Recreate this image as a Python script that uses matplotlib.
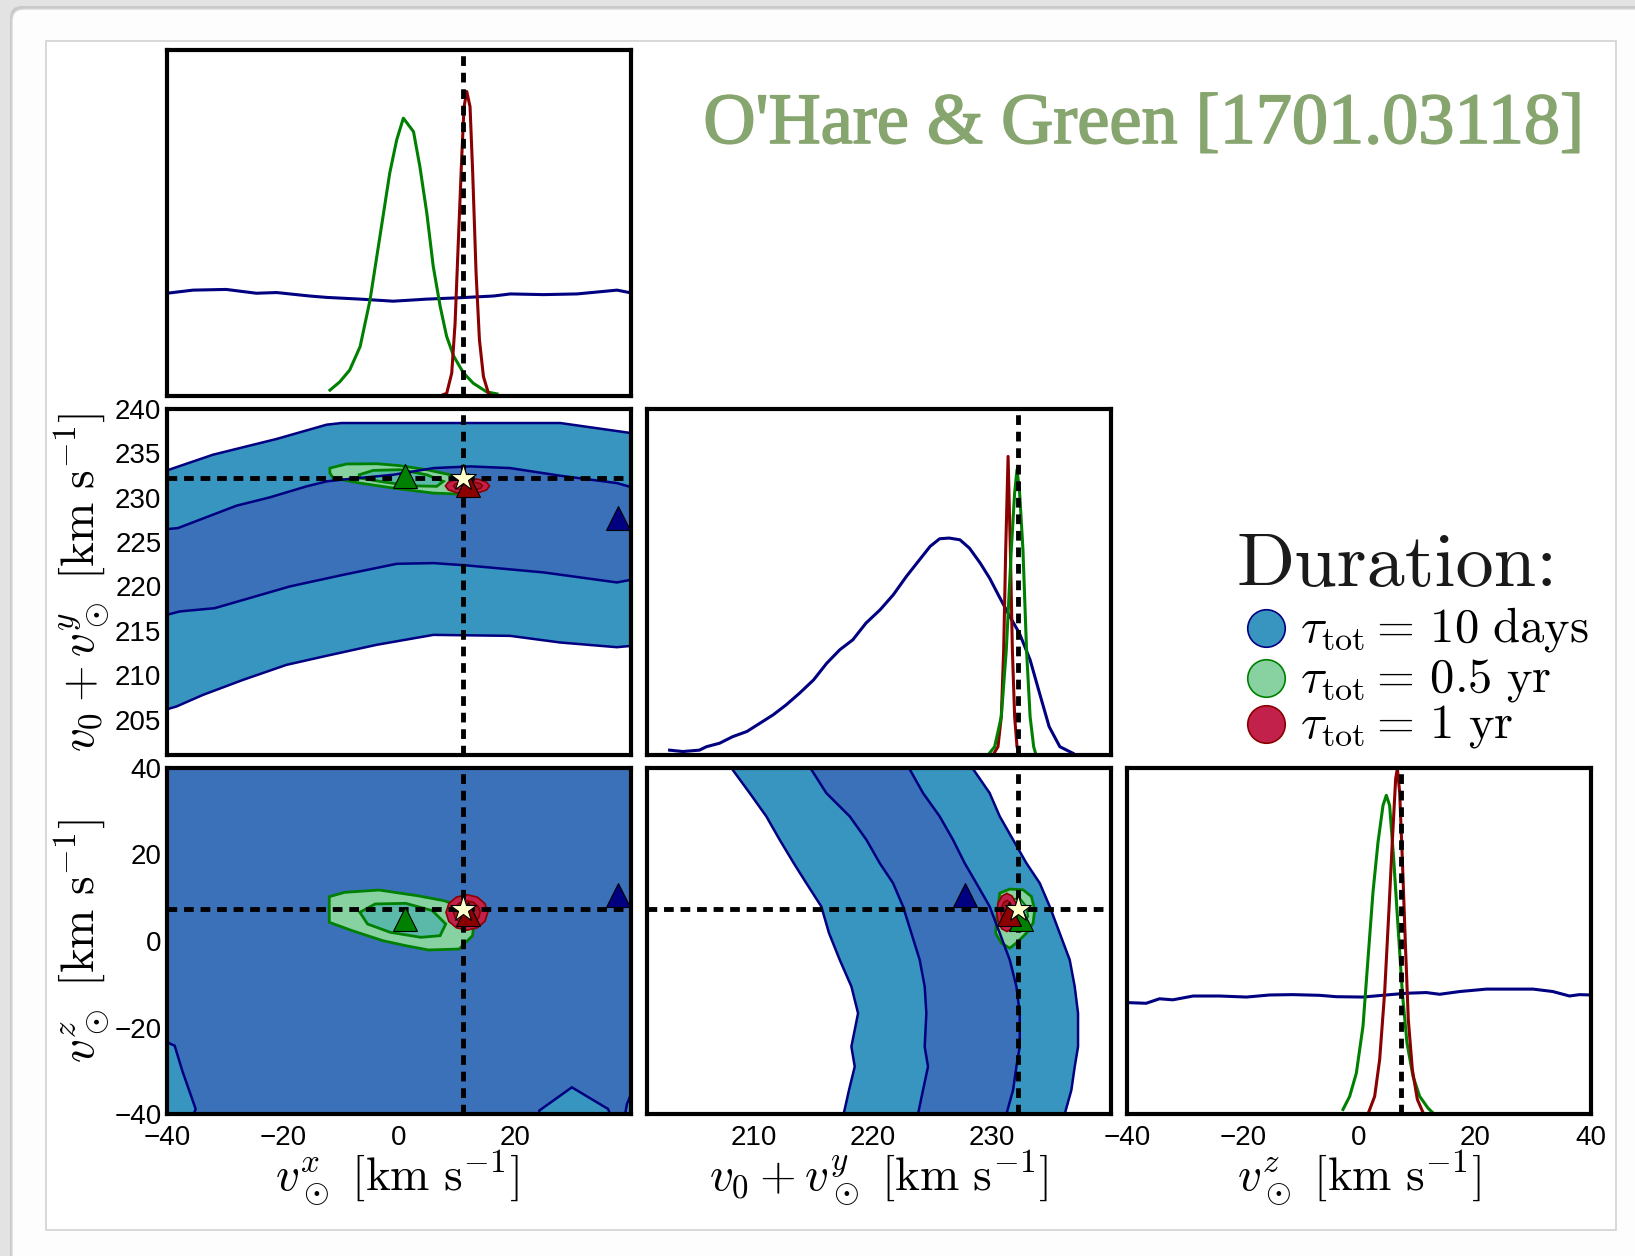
import matplotlib
matplotlib.use('Agg')
import matplotlib.pyplot as plt
import matplotlib.patheffects as pe
from matplotlib.patches import FancyBboxPatch, Rectangle
from matplotlib.lines import Line2D

plt.rcParams['mathtext.fontset'] = 'cm'
plt.rcParams['font.family'] = ['Liberation Sans', 'DejaVu Sans']

# ---------------- data ----------------
# true values (dashed lines + star)
vx_true = 11.1
vy_true = 232.2
vz_true = 7.3

lim_x = (-40, 40)
lim_y = (201, 240)
lim_z = (-40, 40)

ticks_x = [-40, -20, 0, 20]
ticks_y_bottom = [210, 220, 230]
ticks_y_left = [205, 210, 215, 220, 225, 230, 235, 240]
ticks_z = [-40, -20, 0, 20, 40]

# 1D marginals (height as fraction of the panel)
blue_x = [-40, -35.5, -29.8, -24.6, -21.1, -15.4, -12.5, -6.7, -1.0, 4.8, 10.5, 16.3, 19.2, 24.9, 30.7, 37.6, 40]
blue_x_h = [0.297, 0.306, 0.308, 0.297, 0.299, 0.289, 0.285, 0.280, 0.274, 0.280, 0.284, 0.289, 0.295, 0.293, 0.295, 0.306, 0.298]
green_x = [-11.9, -10.2, -8.5, -6.7, -5.0, -3.3, -1.6, -0.4, 0.75, 2.5, 3.6, 4.8, 5.9, 7.1, 8.2, 9.4, 11.1, 12.8, 15.1, 16.9]
green_x_h = [0.017, 0.041, 0.075, 0.143, 0.277, 0.460, 0.644, 0.740, 0.803, 0.764, 0.663, 0.528, 0.375, 0.259, 0.173, 0.116, 0.067, 0.037, 0.012, 0.006]
red_x = [7.08, 8.23, 9.09, 9.67, 10.24, 10.82, 11.22, 11.68, 12.25, 12.71, 13.29, 13.87, 14.56, 15.42, 16.0]
red_x_h = [0, 0.008, 0.066, 0.210, 0.451, 0.692, 0.836, 0.880, 0.836, 0.643, 0.355, 0.162, 0.056, 0.008, 0]

blue_y = [202.9, 204.0, 205.4, 206.0, 207.1, 208.2, 209.4, 210.5, 211.6, 212.7, 213.8, 215.0, 216.1, 217.2, 218.3,
          219.4, 220.6, 221.7, 222.8, 223.9, 224.8, 225.6, 226.4, 227.3, 228.1, 229.0, 229.8, 230.6, 231.5, 232.3,
          233.2, 234.0, 234.8, 235.7, 236.8]
blue_y_h = [0.014, 0.010, 0.014, 0.024, 0.034, 0.053, 0.068, 0.092, 0.116, 0.145, 0.178, 0.217, 0.265, 0.304, 0.333,
            0.381, 0.420, 0.463, 0.516, 0.564, 0.603, 0.625, 0.627, 0.622, 0.598, 0.555, 0.511, 0.458, 0.400, 0.352,
            0.275, 0.178, 0.082, 0.024, 0.005]
green_y = [229.66, 230.22, 230.78, 231.2, 231.62, 231.9, 232.1, 232.32, 232.6, 232.9, 233.2, 233.5, 233.7]
green_y_h = [0, 0.024, 0.111, 0.304, 0.593, 0.757, 0.825, 0.757, 0.593, 0.304, 0.111, 0.024, 0]
red_y = [230.08, 230.5, 230.78, 230.98, 231.15, 231.35, 231.54, 231.71, 231.9, 232.1, 232.33]
red_y_h = [0, 0.024, 0.111, 0.304, 0.593, 0.863, 0.593, 0.304, 0.111, 0.024, 0]

blue_z = [-40, -36.7, -34.4, -32.1, -28.6, -24.0, -19.4, -15.4, -11.4, -6.8, -3.9, 0.7, 4.7, 8.2, 11.6, 13.9,
          17.4, 22.0, 26.5, 30.0, 33.4, 36.3, 38.0, 40]
blue_z_h = [0.322, 0.320, 0.333, 0.330, 0.341, 0.341, 0.338, 0.344, 0.345, 0.343, 0.339, 0.338, 0.344, 0.349, 0.351,
            0.346, 0.354, 0.361, 0.361, 0.361, 0.354, 0.341, 0.345, 0.344]
green_z = [-2.76, -1.61, -0.46, 0.69, 1.55, 2.41, 3.28, 4.14, 4.71, 5.28, 5.98, 6.72, 7.47, 8.27, 9.31, 10.46, 11.9, 12.76]
green_z_h = [0.013, 0.051, 0.118, 0.254, 0.448, 0.641, 0.786, 0.892, 0.921, 0.892, 0.737, 0.544, 0.351, 0.206, 0.109,
             0.051, 0.017, 0.003]
red_z = [1.55, 2.70, 3.56, 4.42, 5.17, 5.74, 6.32, 6.61, 7.01, 7.47, 7.99, 8.5, 9.2, 10.06, 11.15]
red_z_h = [0, 0.051, 0.157, 0.351, 0.592, 0.786, 0.969, 0.998, 0.930, 0.737, 0.495, 0.273, 0.128, 0.042, 0]

# 2D: vx vs v0+vy, 10 days bands
xy_out_up_x = [-40, -32.06, -21.12, -12.49, -9.9, 10.53, 27.8, 40]
xy_out_up_y = [233.08, 234.85, 236.62, 238.23, 238.42, 238.42, 238.42, 237.29]
xy_out_lo_x = [-40, -38.39, -33.78, -26.88, -19.4, -12.49, -3.86, 5.93, 19.16, 27.8, 37.58, 40]
xy_out_lo_y = [206.16, 206.46, 207.78, 209.47, 211.16, 212.18, 213.42, 214.54, 214.43, 213.68, 213.15, 213.30]
xy_in_up_x = [-40, -38.1, -28.03, -22.27, -15.94, -12.49, -9.9, -0.98, 5.93, 12.26, 19.16, 27.8, 37.58, 40]
xy_in_up_y = [226.46, 226.58, 229.10, 230.04, 231.28, 231.84, 232.03, 232.59, 233.34, 233.53, 233.34, 232.48, 231.65, 231.20]
xy_in_lo_x = [-40, -37.81, -31.77, -18.82, -9.61, -0.40, 5.93, 11.68, 24.92, 37.58, 40]
xy_in_lo_y = [216.80, 217.18, 217.55, 220.0, 221.31, 222.55, 222.63, 222.37, 221.58, 220.45, 220.75]
# 0.5 yr
xy_g_out_x = [-11.92, -9.04, -3.86, 0.17, 4.77, 8.80, 11.68, 12.26, 10.53, 5.93, -0.98, -6.74, -11.34, -11.92]
xy_g_out_y = [233.34, 233.80, 233.83, 233.61, 233.16, 232.59, 231.65, 230.71, 230.41, 230.52, 231.09, 231.65, 232.22, 232.78]
xy_g_in_x = [-6.85, -4.43, 0.17, 4.77, 7.65, 6.5, 1.9, -3.28, -6.74]
xy_g_in_y = [232.59, 233.08, 233.16, 232.59, 231.84, 231.28, 231.35, 231.84, 232.22]
# 1 yr
xy_r_out_x = [15.6, 15.09, 13.7, 11.8, 9.9, 8.51, 8.0, 8.51, 9.9, 11.8, 13.7, 15.09]
xy_r_out_y = [231.32, 231.76, 232.07, 232.19, 232.07, 231.76, 231.32, 230.88, 230.57, 230.45, 230.57, 230.88]
xy_r_in_x = [14.4, 14.07, 13.15, 11.9, 10.65, 9.73, 9.4, 9.73, 10.65, 11.9, 13.15, 14.07]
xy_r_in_y = [231.32, 231.57, 231.75, 231.82, 231.75, 231.57, 231.32, 231.07, 230.89, 230.82, 230.89, 231.07]

# 2D: vx vs vz, 10 days (inner region fills the panel, outer patches in the corners)
xz_patch_a_x = [-40, -38.68, -37.37, -35.06, -35.39, -40]
xz_patch_a_z = [-23.43, -24.2, -29.98, -38.84, -40, -40]
xz_patch_b_x = [24.2, 24.2, 29.8, 36.05, 36.38]
xz_patch_b_z = [-40, -39.2, -33.83, -38.84, -40]
xz_patch_c_x = [40, 39.3, 39.0, 40]
xz_patch_c_z = [-35.4, -37.7, -40, -40]
xz_g_out_x = [-12.02, -9.38, -3.46, 3.13, 7.73, 11.03, 13.0, 12.67, 10.37, 5.10, 1.15, -2.80, -8.07, -12.02]
xz_g_out_z = [10.25, 11.25, 11.79, 10.48, 9.33, 7.79, 4.70, 1.23, -1.85, -2.08, -1.08, 0.08, 2.39, 4.32]
xz_g_in_x = [-6.75, -4.12, 1.15, 5.76, 8.06, 7.08, 3.78, -1.48, -5.43]
xz_g_in_z = [6.63, 8.56, 8.71, 7.01, 3.93, 1.23, 0.85, 2.0, 3.93]
xz_r_out_x = [15.3, 14.82, 13.5, 11.7, 9.9, 8.58, 8.1, 8.58, 9.9, 11.7, 13.5, 14.82]
xz_r_out_z = [6.6, 8.65, 10.15, 10.7, 10.15, 8.65, 6.6, 4.55, 3.05, 2.5, 3.05, 4.55]
xz_r_in_x = [14.0, 13.69, 12.85, 11.7, 10.55, 9.71, 9.4, 9.71, 10.55, 11.7, 12.85, 13.69]
xz_r_in_z = [6.6, 7.95, 8.94, 9.3, 8.94, 7.95, 6.6, 5.25, 4.26, 3.9, 4.26, 5.25]

# 2D: v0+vy vs vz, 10 days band boundaries (left to right) on a common vz grid
yz_z = [40, 34.21, 28.81, 23.41, 18.01, 13.38, 7.98, 1.81, -4.36, -10.53, -16.71, -24.42, -29.05, -34.45, -40]
yz_b1 = [208.09, 209.63, 211.03, 212.15, 213.33, 214.39, 215.65, 216.30, 217.20, 218.18, 218.74, 218.18, 218.46, 217.98, 217.53]
yz_b2 = [214.73, 216.07, 218.04, 219.44, 220.56, 221.68, 222.52, 223.22, 223.92, 224.34, 224.48, 224.34, 224.62, 224.20, 223.78]
yz_b3 = [223.02, 224.20, 225.60, 226.72, 227.70, 228.68, 229.80, 230.65, 231.49, 232.05, 232.33, 232.33, 232.05, 231.77, 231.21]
yz_b4 = [228.35, 229.80, 230.65, 231.77, 232.89, 234.01, 234.85, 235.69, 236.53, 236.95, 237.23, 237.23, 236.95, 236.67, 236.11]
yz_g_out_y = [230.65, 231.49, 232.61, 233.31, 233.59, 233.45, 232.89, 232.19, 231.49, 230.79, 230.31, 230.37, 230.51]
yz_g_out_z = [11.07, 12.0, 11.84, 10.30, 7.21, 4.13, 1.81, -0.12, -1.66, -0.50, 1.81, 4.90, 7.98]
yz_g_in_y = [231.49, 232.33, 232.89, 233.03, 232.61, 231.77, 231.21, 231.15]
yz_g_in_z = [9.53, 9.91, 7.98, 5.67, 3.74, 3.74, 5.67, 7.98]
yz_r_out_y = [232.1, 231.99, 231.68, 231.25, 230.83, 230.51, 230.4, 230.51, 230.83, 231.25, 231.68, 231.99]
yz_r_out_z = [6.6, 8.8, 10.4, 11.0, 10.4, 8.8, 6.6, 4.4, 2.8, 2.2, 2.8, 4.4]
yz_r_in_y = [231.75, 231.68, 231.5, 231.25, 231.0, 230.82, 230.75, 230.82, 231.0, 231.25, 231.5, 231.68]
yz_r_in_z = [6.6, 8.0, 9.0, 9.4, 9.0, 8.0, 6.6, 5.2, 4.2, 3.8, 4.2, 5.2]

# best-fit points (triangles) for each duration: (vx, v0+vy, vz)
best_blue = (37.8, 227.7, 10.7)
best_green = (1.0, 232.45, 5.2)
best_red = (11.9, 231.45, 6.2)

legend_labels = [r'$\tau_{\rm tot} =\,10\ {\rm days}$',
                 r'$\tau_{\rm tot} =\,0.5\ {\rm yr}$',
                 r'$\tau_{\rm tot} =\,1\ {\rm yr}$']

# ---------------- styles ----------------
c_blue_out = '#3795bf'
c_blue_in = '#3b71b8'
c_navy = '#000080'
c_green_out = '#88d2a2'
c_green_in = '#5bb9a9'
c_green_line = '#008000'
c_red_out = '#c2214b'
c_red_in = '#a3162c'
c_red_line = '#8b0000'
dash = (0, (2.0, 1.4))

W, H = 1635, 1256
fig = plt.figure(figsize=(W / 100, H / 100), dpi=100)
fig.patch.set_facecolor('#e3e3e3')

# window + inner frame of the screenshot
fig.add_artist(FancyBboxPatch((0.10, -0.6), 17.0, 12.48 + 0.62, boxstyle='round,pad=0,rounding_size=0.12',
                              transform=fig.dpi_scale_trans, facecolor='#c9c9c9', edgecolor='none', zorder=-11))
fig.add_artist(FancyBboxPatch((0.12, -0.6), 17.0, 12.47 + 0.6, boxstyle='round,pad=0,rounding_size=0.12',
                              transform=fig.dpi_scale_trans, facecolor='#fdfdfd', edgecolor='#d8d8d8', lw=1, zorder=-10))
fig.add_artist(Rectangle((0.46, (H - 1230) / 100), 15.70, 11.89, transform=fig.dpi_scale_trans,
                         facecolor='white', edgecolor='#d2d2d2', lw=1.2, zorder=-9))


def panel(col, row):
    x0 = [167, 647, 1127][col]
    y1 = [396, 755, 1114][row]
    ax = fig.add_axes([x0 / W, 1 - y1 / H, 464 / W, 346 / H])
    for s in ax.spines.values():
        s.set_linewidth(3)
    ax.tick_params(length=0, labelsize=20)
    ax.tick_params(axis='x', pad=8)
    ax.tick_params(axis='y', pad=4)
    ax.set_xticks([])
    ax.set_yticks([])
    return ax


def markers(ax, i, j):
    for p, c in [(best_blue, c_navy), (best_green, c_green_line), (best_red, c_red_line)]:
        ax.plot(p[i], p[j], '^', ms=17, mfc=c, mec='k', mew=0.8, zorder=6, clip_on=False)
    t = (vx_true, vy_true, vz_true)
    ax.plot(t[i], t[j], '*', ms=20, mfc='#ffffcc', mec='k', mew=0.8, zorder=7)


# ---- top-left: vx marginal
ax = panel(0, 0)
ax.plot(blue_x, blue_x_h, color=c_navy, lw=2.2)
ax.plot(green_x, green_x_h, color=c_green_line, lw=2.2)
ax.plot(red_x, red_x_h, color=c_red_line, lw=2.2)
ax.axvline(vx_true, color='k', lw=3.5, ls=dash)
ax.set_xlim(lim_x)
ax.set_ylim(0, 1)

# ---- middle-left: vx vs v0+vy
ax = panel(0, 1)
ax.fill(xy_out_up_x + xy_out_lo_x[::-1], xy_out_up_y + xy_out_lo_y[::-1], color=c_blue_out, lw=0)
ax.fill(xy_in_up_x + xy_in_lo_x[::-1], xy_in_up_y + xy_in_lo_y[::-1], color=c_blue_in, lw=0)
for bx, by in [(xy_out_up_x, xy_out_up_y), (xy_out_lo_x, xy_out_lo_y), (xy_in_up_x, xy_in_up_y), (xy_in_lo_x, xy_in_lo_y)]:
    ax.plot(bx, by, color=c_navy, lw=1.8)
ax.fill(xy_g_out_x, xy_g_out_y, facecolor=c_green_out, edgecolor=c_green_line, lw=2)
ax.fill(xy_g_in_x, xy_g_in_y, facecolor=c_green_in, edgecolor=c_green_line, lw=2)
ax.fill(xy_r_out_x, xy_r_out_y, facecolor=c_red_out, edgecolor=c_red_line, lw=1.2)
ax.fill(xy_r_in_x, xy_r_in_y, facecolor=c_red_in, edgecolor=c_red_line, lw=1.2)
ax.axvline(vx_true, color='k', lw=3.5, ls=dash, zorder=5)
ax.axhline(vy_true, color='k', lw=3.5, ls=dash, zorder=5)
markers(ax, 0, 1)
ax.set_xlim(lim_x)
ax.set_ylim(lim_y)
ax.set_yticks(ticks_y_left)

# ---- bottom-left: vx vs vz
ax = panel(0, 2)
ax.set_facecolor(c_blue_in)
for px, pz in [(xz_patch_a_x, xz_patch_a_z), (xz_patch_b_x, xz_patch_b_z), (xz_patch_c_x, xz_patch_c_z)]:
    ax.fill(px, pz, facecolor=c_blue_out, edgecolor=c_navy, lw=1.8)
ax.fill(xz_g_out_x, xz_g_out_z, facecolor=c_green_out, edgecolor=c_green_line, lw=2)
ax.fill(xz_g_in_x, xz_g_in_z, facecolor=c_green_in, edgecolor=c_green_line, lw=2)
ax.fill(xz_r_out_x, xz_r_out_z, facecolor=c_red_out, edgecolor=c_red_line, lw=1.2)
ax.fill(xz_r_in_x, xz_r_in_z, facecolor=c_red_in, edgecolor=c_red_line, lw=1.2)
ax.axvline(vx_true, color='k', lw=3.5, ls=dash, zorder=5)
ax.axhline(vz_true, color='k', lw=3.5, ls=dash, zorder=5)
markers(ax, 0, 2)
ax.set_xlim(lim_x)
ax.set_ylim(lim_z)
ax.set_xticks(ticks_x)
ax.set_yticks(ticks_z)

# ---- middle-center: v0+vy marginal
ax = panel(1, 1)
ax.plot(blue_y, blue_y_h, color=c_navy, lw=2.2)
ax.plot(red_y, red_y_h, color=c_red_line, lw=2.2)
ax.plot(green_y, green_y_h, color=c_green_line, lw=2.2)
ax.axvline(vy_true, color='k', lw=3.5, ls=dash)
ax.set_xlim(lim_y)
ax.set_ylim(0, 1)

# ---- bottom-center: v0+vy vs vz
ax = panel(1, 2)
ax.fill_betweenx(yz_z, yz_b1, yz_b4, color=c_blue_out, lw=0)
ax.fill_betweenx(yz_z, yz_b2, yz_b3, color=c_blue_in, lw=0)
for b in [yz_b1, yz_b2, yz_b3, yz_b4]:
    ax.plot(b, yz_z, color=c_navy, lw=1.8)
ax.fill(yz_g_out_y, yz_g_out_z, facecolor=c_green_out, edgecolor=c_green_line, lw=2)
ax.fill(yz_g_in_y, yz_g_in_z, facecolor=c_green_in, edgecolor=c_green_line, lw=1.5)
ax.fill(yz_r_out_y, yz_r_out_z, facecolor=c_red_out, edgecolor=c_red_line, lw=1.2)
ax.fill(yz_r_in_y, yz_r_in_z, facecolor=c_red_in, edgecolor=c_red_line, lw=1.2)
ax.axvline(vy_true, color='k', lw=3.5, ls=dash, zorder=5)
ax.axhline(vz_true, color='k', lw=3.5, ls=dash, zorder=5)
markers(ax, 1, 2)
ax.set_xlim(lim_y)
ax.set_ylim(lim_z)
ax.set_xticks(ticks_y_bottom)

# ---- bottom-right: vz marginal
ax = panel(2, 2)
ax.plot(blue_z, blue_z_h, color=c_navy, lw=2.2)
ax.plot(green_z, green_z_h, color=c_green_line, lw=2.2)
ax.plot(red_z, red_z_h, color=c_red_line, lw=2.2)
ax.axvline(vz_true, color='k', lw=3.5, ls=dash)
ax.set_xlim(lim_z)
ax.set_ylim(0, 1)
ax.set_xticks(ticks_z)

# ---- axis labels
lab = dict(fontsize=34, ha='center', va='center')
fig.text(397 / W, 1 - 1178 / H, r'$v_\odot^x\ [{\rm km\ s}^{-1}]$', **lab)
fig.text(879 / W, 1 - 1178 / H, r'$v_0 + v_\odot^y\ [{\rm km\ s}^{-1}]$', **lab)
fig.text(1359 / W, 1 - 1178 / H, r'$v_\odot^z\ [{\rm km\ s}^{-1}]$', **lab)
fig.text(82 / W, 1 - 582 / H, r'$v_0 + v_\odot^y\ [{\rm km\ s}^{-1}]$', rotation=90, **lab)
fig.text(82 / W, 1 - 941 / H, r'$v_\odot^z\ [{\rm km\ s}^{-1}]$', rotation=90, **lab)

# ---- title and legend
fig.text(1585 / W, 1 - 143 / H, "O'Hare & Green [1701.03118]", family='Liberation Serif', fontsize=52,
         color='#87a56e', ha='right', va='baseline',
         path_effects=[pe.withStroke(linewidth=1.2, foreground='#87a56e')])
fig.text(1236 / W, 1 - 586 / H, 'Duration:', family='cmr10', fontsize=55, color='#1a1a1a', va='baseline')
leg_y = [628, 678, 724]
leg_face = ['#3795bf', '#88d2a2', '#c2214b']
leg_edge = [c_navy, c_green_line, c_red_line]
for y, lbl, fc, ec in zip(leg_y, legend_labels, leg_face, leg_edge):
    fig.add_artist(Line2D([1266 / W], [1 - y / H], marker='o', ms=27, mfc=fc, mec=ec, mew=1.2,
                          transform=fig.transFigure))
    fig.text(1300 / W, 1 - (y + 13) / H, lbl, fontsize=35, va='baseline')

fig.savefig('out.png', dpi=100, facecolor=fig.get_facecolor())
